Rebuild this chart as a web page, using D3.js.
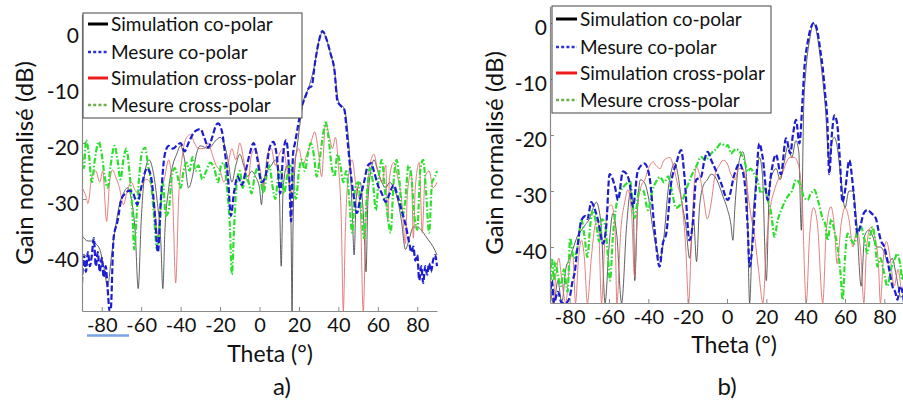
<!DOCTYPE html>
<html><head><meta charset="utf-8">
<script src="https://cdn.jsdelivr.net/npm/d3@7"></script>
<style>html,body{margin:0;padding:0;background:#fff;}svg{display:block;}</style>
</head><body>
<svg id="chart" width="903" height="403"></svg>
<script>
// ---------- DATA ----------
const xTicks = [-80,-60,-40,-20,0,20,40,60,80];
const yTicks = [0,-10,-20,-30,-40];
const legendLabels = ["Simulation co-polar","Mesure co-polar","Simulation cross-polar","Mesure cross-polar"];
const panelLabels = ["a)","b)"];

// Panel a) Simulation co-polar
const aSimCoTheta = [-90,-87,-85,-83,-81,-79,-77,-75,-73,-71,-69,-67,-65,-63,-61.5,-60,-58,-56,-54,-52,-50,-49,-48,-46,-44,-42,-40,-38,-36,-34,-32,-30,-26,-22,-20,-18,-16,-14,-12,-10,-8,-6,-4,-2,0,1,2,4,6,8,10,11,12,14,15,16,16.5,17,18,19,20,22,25,28,30,32,34,36,38,40,43,45,46,47,48,49,51,53,54,55,57,58,60,62,64,66,68,70,72,74,76,78,80,82,84,86,88,90];
const aSimCoGain  = [-36.5,-37.5,-37.5,-38,-39,-42,-45.5,-40,-35,-31,-29,-28,-30,-36,-46,-34,-25,-23,-25,-30,-38,-46,-36,-28,-24,-22,-20.5,-23,-28,-26,-22,-20.5,-21,-19.5,-19,-20,-23,-27,-24,-22,-24,-26,-25,-26,-28,-31,-27,-25,-24,-23,-28,-42,-28,-24,-26,-35,-50,-35,-24,-21,-18,-13,-10,-6,-2,-0.2,-1.5,-4,-7,-12.5,-14,-19,-24,-32,-40,-30,-27,-35,-43,-30,-24,-23,-25,-27,-28,-27,-28,-30,-34,-39,-37,-35,-35,-35.5,-36.5,-37.5,-38.5,-40];
// Panel a) Mesure co-polar
const aMesCoTheta = [-90,-89,-88,-87,-86,-85,-84,-83,-82,-81,-80,-79,-78,-77,-76,-75.5,-74,-72,-70,-68,-66,-64,-62,-60,-57,-55,-53,-51.5,-50,-48,-46,-44,-42,-40,-38,-36,-33,-30,-28,-26,-24,-22,-21,-19,-17.5,-16,-14.5,-13,-11,-9,-7,-5,-3,-1,1,3,5,7,9,10.5,12,13.5,15,16,17,18,19.5,21,23,25,26.5,28,30,32,34,36,38,39.5,41,43,44.5,46,48,49.5,51,53,55,56.5,58,60,62,64,66,68,70,72,74,76,77,78,79,80,81,82,83,84,85,86,87,88,89,90];
const aMesCoGain  = [-45,-40,-43,-39.5,-42,-40,-37,-42,-39.5,-43,-40.5,-44,-42,-46,-50,-50,-37,-34,-30,-29,-28.5,-29,-31,-28,-24.5,-26,-33,-39.5,-30,-22,-20.5,-21,-20.5,-20,-21.5,-20,-18,-17.5,-19,-20.8,-19,-16.8,-16.5,-18,-21.8,-26,-33,-29,-26,-27.5,-25,-22,-20,-23,-27,-26,-21,-19.8,-23,-29,-22,-19.5,-25,-34,-22,-20,-17,-14,-12,-10.2,-9.8,-6,-2,0,-1.5,-4,-7,-12.5,-13.3,-14,-19,-24.5,-30,-32.5,-30,-27,-24,-23.6,-25,-27.5,-29,-30.5,-29,-27.5,-29.5,-32,-34.5,-38,-39.5,-38.5,-41,-40,-44.5,-42,-45,-42,-43.5,-41.5,-43,-41,-40,-42];
// Panel a) Simulation cross-polar
const aSimXTheta = [-90,-88,-87,-85,-83,-81,-79.5,-77.5,-76,-74.5,-73,-71,-69,-67,-65,-63,-61,-59,-57,-55,-53,-51.5,-50,-48,-46,-44,-42.5,-41,-39,-37,-35,-33,-31,-28,-26,-24,-22,-20,-18,-16,-14,-12,-10,-8,-6,-4,-2,0,2,4,6,8,10,12,14,16,18,20,22,24,26,28,30,31.5,33.5,35.5,37,38.5,40,41.5,42.5,43.5,45,47,49,51,52.6,54,56,58,60,62,64,65,66,68,70,72,74,75,77,78,79,81,82.5,84,86,88,90];
const aSimXGain  = [-28,-29.5,-30.8,-26,-25,-27,-25,-34,-27,-24.8,-26,-28,-31,-28.5,-27,-28.5,-29,-27,-26.5,-27.5,-32,-37,-30,-26,-23,-30,-45,-30,-22,-19,-18.5,-20,-21,-21,-20,-22,-24,-25,-27,-24,-21,-23,-20,-23,-27,-22,-21,-24,-28,-22,-21,-24,-22,-21,-25,-29,-23,-21,-24,-22,-20,-18,-22,-26,-16.5,-19,-21,-19,-24,-34,-50,-36,-26,-23,-28,-31,-50,-33,-24,-22,-25,-27,-24,-34,-26,-23.5,-26,-30,-38,-29,-25,-37,-28,-23.5,-36,-26,-25,-28,-27];
// Panel a) Mesure cross-polar
const aMesXTheta = [-90,-89,-88,-86.5,-85,-83.5,-81.5,-80,-78.5,-77,-75.5,-73.5,-72,-70.5,-69,-67.5,-66,-64.5,-63.5,-62.5,-61,-59.5,-58,-56.5,-55,-53.5,-52,-50.5,-49,-47.5,-46,-44.5,-43,-41.5,-40,-38.5,-37,-35.5,-34,-32.5,-31,-29,-27,-25,-23,-21,-19.5,-18,-16.5,-15,-14,-13,-11.5,-10,-8.5,-7,-5.5,-4,-2.5,-1,0.5,2,3.5,5,6.5,8,9.5,11,12.5,14,15.5,17,18.5,20,21.5,23,24.5,26,27.5,29,30.5,32,33.5,35,36.5,38,39.5,41,42.5,44,45.5,47,48.5,50,51.5,53,54.5,56,57.5,59,60.5,62,63.5,65,66.5,68,69.5,71,72.5,74,75.5,77,78.5,80,81.5,83,84.5,86,87.5,89,90];
const aMesXGain  = [-22,-24.5,-19.5,-22,-27,-23,-19.8,-22,-26,-28,-24,-20.5,-23,-26.5,-23,-21,-25,-32,-39,-34,-26,-21.5,-20.8,-24,-27,-33,-39,-34,-27,-33,-32,-26,-24.5,-26,-28,-25,-23.5,-25,-22.5,-25,-24,-26.5,-25,-23.5,-24.5,-27,-24,-23.5,-28,-35,-43.5,-36,-27,-25,-28,-25.5,-27,-29,-26,-24.5,-26.5,-29,-26,-24,-27.5,-30,-26,-25,-29,-26,-24,-27,-30,-25,-23,-25,-22,-20,-22,-26,-23,-19,-16.3,-19,-24,-26,-22,-24,-27,-25,-30,-36,-28,-27,-32,-37,-29,-24.5,-27,-32,-26,-23,-28,-33,-36,-27,-23,-27,-33,-30,-24,-26,-33,-35.5,-25,-23,-29,-36,-27,-26,-25];

// Panel b) Simulation co-polar
const bSimCoTheta = [-90,-88,-86,-84,-82,-80,-78,-76,-74,-72,-70,-68,-66.5,-64,-62,-60,-58,-56,-53.6,-51,-49,-47.5,-46.9,-45.5,-44,-42,-40,-38,-36,-34,-32,-30,-28,-26.5,-25,-23,-21,-19,-17,-15.5,-14,-12,-10,-8,-6,-4,-2,0,2,3,4,6,8,10,11.5,13,15,16.5,18,20,21.5,23,25,27,29,31,33,35,36.5,37.8,39,40,42,44,46,48,50,52,53,54.6,56,58,60,62,64,66,68.2,70,72,74,76,78,80,82,84,86,88.4,90];
const bSimCoGain  = [-48,-50,-46,-50,-44,-42,-40,-38,-37,-36,-35,-33,-32,-36,-50,-40,-34,-38,-50,-36,-30,-35,-46,-33,-28,-28.5,-31,-36,-40,-42,-38,-30,-26,-25,-27,-32,-36,-42,-35,-42.6,-33,-29,-28,-27,-27.5,-29,-31,-33,-36,-38.8,-33,-25,-23,-28,-50,-36,-28,-24,-27,-46,-30,-27,-26,-28,-25,-22,-24,-21,-23,-37,-15,-9,-3,0,-2.5,-8,-15,-25,-22,-20.4,-22,-28,-33,-30,-30,-36,-47,-38,-37,-38,-40,-40,-41,-43,-42,-45,-49,-48];
// Panel b) Mesure co-polar
const bMesCoTheta = [-90,-89,-88,-86,-84,-82,-80,-78.5,-77.5,-76,-74,-72,-71,-69,-67.5,-65.6,-63,-61.4,-59.7,-57,-55.4,-52.9,-51,-49.5,-47.8,-45.3,-41.9,-39.4,-36.8,-34.3,-32.6,-30.9,-28.4,-25.8,-23.3,-21.6,-19.1,-17.4,-15.7,-13.2,-11.5,-9.8,-8,-6.4,-3,0.4,3.8,6.3,8.8,10.5,11.5,13.1,14.8,16.4,18.1,20.7,22.4,24.9,27.4,30,32.2,33.5,35.1,36.8,38.4,39.4,41,42.5,44.2,46,47.5,48.6,50,51,52,53.3,54.6,56,57.5,58.7,60,62.2,64,66.4,68,69.5,71.4,73.5,75.7,77,78.2,80,81.6,83,84.1,85.5,86.7,88,89.2,90];
const bMesCoGain  = [-49,-46,-50,-48,-50,-50,-49,-46,-44.7,-40,-35.2,-34.5,-35,-32,-33,-35.2,-39.4,-36.3,-27,-29.2,-31.6,-26.5,-27,-28.6,-32.8,-26.3,-25.1,-27.5,-37,-43.5,-39.3,-37.6,-28.6,-25.1,-22.7,-27.5,-38.8,-35.8,-28,-27.5,-24.5,-23,-24.5,-25.7,-28.6,-31.6,-27,-25.1,-28,-36.4,-43.5,-38.8,-28.6,-21.5,-23.9,-31.6,-27,-23.5,-27,-20.6,-23.3,-20,-17.3,-21.5,-13.8,-7.8,-3.5,-1,0,-1.5,-5,-7.8,-13,-17.3,-27,-20,-16.5,-18,-25,-32,-30,-24.5,-29,-37.6,-36,-34,-33.4,-34,-34.9,-37,-38.8,-40,-42.4,-45,-47,-48,-49.4,-47,-48,-50];
// Panel b) Simulation cross-polar
const bSimXTheta = [-90,-88.5,-87,-85.5,-84,-82,-80,-78.5,-77,-75.5,-74,-72.5,-71,-69,-67,-65.5,-63.8,-62,-60.5,-58.7,-57,-56,-54,-52,-50.4,-48.5,-47,-45.5,-43.5,-41.8,-40,-37.6,-36,-34,-32,-29,-27,-25,-23,-21,-19.5,-18,-15.6,-14,-12,-10,-8,-6,-4,-2,0,2,4,6,8,10,12,14,16,18.3,20,22,24,26,28,30,32,34.2,36,38,40.3,42,44,46,48.7,50.5,52.8,54.5,56,58,60,62,64,66,68,69.6,71,73,75,77,78,79.5,81,83,85,87,89,90];
const bSimXGain  = [-46,-50,-45,-42,-46,-50,-43,-41,-50,-42,-38.8,-42,-50,-42,-36,-35,-50,-38,-33,-32.5,-36,-50,-37,-32,-29.8,-34,-45.3,-33,-29,-28,-26,-24.8,-25.5,-26,-24.5,-24,-26,-29,-32,-40,-50,-38,-25.7,-27,-31,-35,-32,-27,-25.5,-24.5,-25,-27,-28,-26,-26,-29,-34,-38,-44,-50,-40,-33,-30,-28,-27,-25,-24,-24,-25,-30,-50,-38,-33,-36,-50,-37,-32.8,-36,-43,-36,-33,-35,-40,-37,-41,-50,-40,-36.5,-38,-43,-50,-42,-39,-42,-47,-44,-48,-46];
// Panel b) Mesure cross-polar
const bMesXTheta = [-90,-89,-88,-87.4,-86,-84.5,-83,-81,-79.8,-78,-76,-74,-72.5,-71,-69.5,-68.2,-66.5,-65,-63.5,-62,-60.5,-59.5,-58,-56,-54,-52,-50.3,-49.4,-47,-44.5,-42.5,-40.2,-38,-36,-34,-32,-30,-28,-26,-23.3,-21,-18.2,-15.5,-13.2,-11,-8.1,-5.5,-3,-0.5,0.4,2.1,4.5,7.1,8.8,10.5,12,13.9,15.5,17.3,19,20.7,22.5,24.1,25.8,28,30.8,33,35.1,37.6,39,41,42.5,44.4,46.5,48.5,50,51.1,53,54.5,56.2,57.8,58.8,60,61.3,62.8,64.7,66.5,68.1,69.8,71.4,72.8,74,75.3,76.5,78,79.5,81.6,83.3,85,86.7,88,89.2,90];
const bMesXGain  = [-50,-42,-46,-42.6,-45,-47,-44,-48,-38.4,-42,-40,-35.2,-38,-41.8,-36,-33.4,-36,-39,-35,-36,-42,-46,-38,-32,-30,-29,-28.4,-28,-34.8,-29.8,-30,-33.4,-30,-28.3,-27.5,-28.5,-27.4,-30,-33,-32.2,-30,-27.4,-25.5,-23.9,-24.5,-23.3,-22.5,-21.5,-22,-21.8,-23.3,-22.5,-23.3,-24.5,-26.5,-26,-27,-28,-30.4,-29.5,-31.6,-34,-38.2,-35.2,-33,-31,-30,-28,-29.2,-31,-31.6,-30.5,-29.8,-32,-34.8,-36,-38.8,-35,-37,-40,-45,-49.4,-42,-37.6,-38.5,-39.4,-37,-36.4,-38.5,-41.1,-38,-36.4,-39,-43.5,-42,-44,-47,-44,-42.4,-41.2,-43,-45.9,-44];

// ---------- DRAW ----------
const FONT = "Lato, 'Open Sans', 'DejaVu Sans', sans-serif";
const svg = d3.select("#chart");
const zip = (t, g) => t.map((v, i) => [v, g[i]]);

const panels = [
  { id: "a", x0: 82, x1: 437, yTop: 14.2, yBot: 311, xPad: 7,
    series: [zip(aSimCoTheta, aSimCoGain), zip(aSimXTheta, aSimXGain), zip(aMesXTheta, aMesXGain), zip(aMesCoTheta, aMesCoGain)],
    legend: { x: 83, y: 13, w: 219, h: 105, rows: [24, 52, 78, 105], lx0: 88, lx1: 108, tx: 111 },
    ylab: { x: 33, y: 163 }, xlabY: 362, xlabX: 270, pl: { x: 282, y: 395 } },
  { id: "b", x0: 550, x1: 904, yTop: 6.2, yBot: 303, xPad: 7,
    series: [zip(bSimCoTheta, bSimCoGain), zip(bSimXTheta, bSimXGain), zip(bMesXTheta, bMesXGain), zip(bMesCoTheta, bMesCoGain)],
    legend: { x: 552, y: 6, w: 219, h: 107, rows: [19, 47, 73, 100], lx0: 556, lx1: 577, tx: 580 },
    ylab: { x: 503, y: 153 }, xlabY: 353, xlabX: 734, pl: { x: 727, y: 395 } }
];

// style per series in draw order: sim co, sim cross, mes cross, mes co
const styles = [
  { stroke: "#3c3c3c", width: 0.9, dash: null, op: 0.9 },
  { stroke: "#e06a6a", width: 0.9, dash: null, op: 0.95 },
  { stroke: "#2ee02e", width: 2.2, dash: "6,2,1.5,2", op: 1 },
  { stroke: "#1c1cd0", width: 2.2, dash: "6,2.5", op: 1 }
];
const legendStyles = [
  { stroke: "#000", width: 3, dash: null },
  { stroke: "#2f2fd8", width: 2.5, dash: "3,2.2" },
  { stroke: "#ee1c1c", width: 3, dash: null },
  { stroke: "#6cb04a", width: 2.5, dash: "3,2.2" }
];

panels.forEach(p => {
  const x = d3.scaleLinear().domain([-90, 90]).range([p.x0, p.x1]);
  const y = d3.scaleLinear().domain([-50, 3]).range([p.yBot, p.yTop]);
  const g = svg.append("g");

  const clipId = "clip-" + p.id;
  svg.append("clipPath").attr("id", clipId).append("rect")
    .attr("x", p.x0).attr("y", 0).attr("width", p.x1 - p.x0 + 2).attr("height", p.yBot);

  const line = d3.line().x(d => x(d[0])).y(d => y(Math.max(-51, d[1]))).curve(d3.curveMonotoneX);
  const plot = g.append("g").attr("clip-path", `url(#${clipId})`);
  p.series.forEach((s, i) => {
    const st = styles[i];
    plot.append("path").datum(s).attr("d", line)
      .attr("fill", "none").attr("stroke", st.stroke).attr("stroke-width", st.width)
      .attr("stroke-opacity", st.op)
      .attr("stroke-dasharray", st.dash);
  });

  // axes
  const xAxis = d3.axisBottom(x).tickValues(xTicks).tickSizeInner(-4).tickSizeOuter(0).tickPadding(p.xPad);
  const gx = g.append("g").attr("transform", `translate(0,${p.yBot})`).call(xAxis);
  gx.select(".domain").attr("stroke", "#8a8a8a").attr("stroke-width", 1.2);
  gx.selectAll(".tick line").attr("stroke", "#8a8a8a");
  gx.selectAll(".tick text").attr("font-family", FONT).attr("font-size", 20).attr("fill", "#111")
    .text(d => d < 0 ? "-" + Math.abs(d) : d);

  const yAxis = d3.axisLeft(y).tickValues(yTicks).tickSizeInner(-4).tickSizeOuter(0).tickPadding(3);
  const gy = g.append("g").attr("transform", `translate(${p.x0},0)`).call(yAxis);
  gy.select(".domain").attr("stroke", "#8a8a8a").attr("stroke-width", 1.2);
  gy.selectAll(".tick line").attr("stroke", "#8a8a8a");
  gy.selectAll(".tick text").attr("font-family", FONT).attr("font-size", 21).attr("fill", "#111")
    .attr("dy", "0.55em").text(d => d < 0 ? "-" + Math.abs(d) : d);

  // axis titles
  g.append("text").attr("x", p.xlabX).attr("y", p.xlabY).attr("text-anchor", "middle")
    .attr("font-family", FONT).attr("font-size", 23).attr("fill", "#111").text("Theta (°)");
  g.append("text").attr("transform", `translate(${p.ylab.x},${p.ylab.y}) rotate(-90)`)
    .attr("text-anchor", "middle").attr("font-family", FONT).attr("font-size", 24).attr("fill", "#111")
    .text("Gain normalisé (dB)");
  g.append("text").attr("x", p.pl.x).attr("y", p.pl.y).attr("text-anchor", "middle")
    .attr("font-family", FONT).attr("font-size", 24).attr("fill", "#111")
    .text(panelLabels[p.id === "a" ? 0 : 1]);

  // legend
  const L = p.legend;
  const lg = g.append("g");
  lg.append("rect").attr("x", L.x).attr("y", L.y).attr("width", L.w).attr("height", L.h)
    .attr("fill", "#fff").attr("stroke", "#444").attr("stroke-width", 1);
  legendLabels.forEach((lab, k) => {
    const ls = legendStyles[k];
    lg.append("line").attr("x1", L.lx0).attr("x2", L.lx1).attr("y1", L.rows[k]).attr("y2", L.rows[k])
      .attr("stroke", ls.stroke).attr("stroke-width", ls.width).attr("stroke-dasharray", ls.dash);
    lg.append("text").attr("x", L.tx).attr("y", L.rows[k] + 7)
      .attr("font-family", FONT).attr("font-size", 19).attr("fill", "#111").text(lab);
  });
});

// light blue underline mark under the first tick labels in panel a)
svg.append("line").attr("x1", 87).attr("x2", 129).attr("y1", 335.5).attr("y2", 335.5)
  .attr("stroke", "#7aa4e4").attr("stroke-width", 2.5);
</script>
</body></html>
